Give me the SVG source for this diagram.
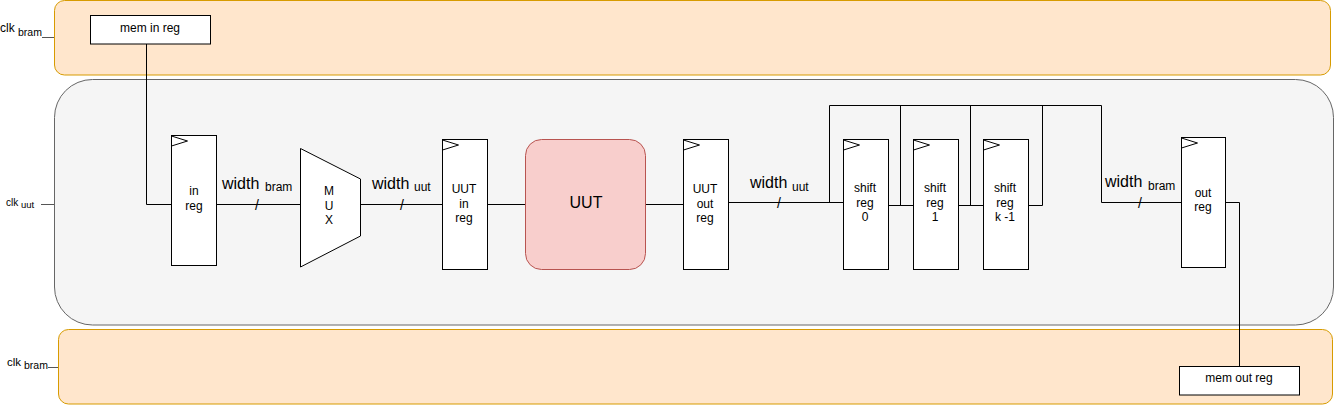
<svg xmlns="http://www.w3.org/2000/svg" width="1335" height="405" viewBox="0 0 1335 405">
<style>
text{font-family:"Liberation Sans",Arial,sans-serif;fill:#000;}
.reg{fill:#fff;stroke:#000;stroke-width:1;}
.clk{fill:none;stroke:#000;stroke-width:1;}
.t12{font-size:12px;text-anchor:middle;}
.w{font-size:16px;}
.s{font-size:12px;}
.sl{font-size:14px;text-anchor:middle;}
.wire{fill:none;stroke:#000;stroke-width:1;}
.stub{fill:none;stroke:#555;stroke-width:1;}
</style>
<defs>
<path id="ck" class="clk" d="M0,0 L16,5 L0,10"/>
</defs>
<g id="bram-top">
<rect x="54.5" y="0.5" width="1276" height="74.5" rx="10" fill="#ffe6cc" stroke="#d79b00"/>
</g>
<g id="uut-domain">
<rect x="54.5" y="79.5" width="1279" height="245.5" rx="38" fill="#f5f5f5" stroke="#666"/>
</g>
<g id="bram-bottom">
<rect x="58.5" y="329.5" width="1274" height="74.5" rx="10" fill="#ffe6cc" stroke="#d79b00"/>
</g>
<g id="clk-labels">
<text x="0" y="32" font-size="12">clk</text><text x="18" y="36" font-size="10.5">bram</text>
<path class="stub" d="M42,37.5 H54"/>
<text x="6" y="206" font-size="10">clk</text><text x="21" y="208" font-size="9.5">uut</text>
<path class="stub" d="M41,204.5 H54"/>
<text x="7" y="366" font-size="11.5">clk</text><text x="24" y="369" font-size="10.5">bram</text>
<path class="stub" d="M48,367.5 H58"/>
</g>
<g id="connectors">
<path class="wire" d="M146.5,44 V204.5 H171"/>
<path class="wire" d="M217,204.5 H300"/>
<path class="wire" d="M360,204.5 H443"/>
<path class="wire" d="M488,204.5 H526"/>
<path class="wire" d="M646,204.5 H683"/>
<path class="wire" d="M728,202.5 H843"/>
<path class="wire" d="M829.5,202.5 V105.5 H1101.5 V202.5 H1181"/>
<path class="wire" d="M888,205.5 H913"/>
<path class="wire" d="M900.5,105.5 V205.5"/>
<path class="wire" d="M958,205.5 H983"/>
<path class="wire" d="M970.5,105.5 V205.5"/>
<path class="wire" d="M1028,205.5 H1042.5 V105.5"/>
<path class="wire" d="M1226,202.5 H1239.5 V366"/>
<text class="w" x="222" y="189">width</text><text class="s" x="265" y="191">bram</text>
<text class="sl" x="257" y="210">/</text>
<text class="w" x="372" y="189">width</text><text class="s" x="414" y="191">uut</text>
<text class="sl" x="402" y="210">/</text>
<text class="w" x="750" y="188">width</text><text class="s" x="792" y="191">uut</text>
<text class="sl" x="779" y="208">/</text>
<text class="w" x="1105" y="187">width</text><text class="s" x="1148" y="190">bram</text>
<text class="sl" x="1140" y="208">/</text>
</g>
<g id="mem-in-reg">
<rect class="reg" x="90.5" y="15.5" width="120" height="28.5"/>
<text class="t12" x="150" y="32">mem in reg</text>
</g>
<g id="in-reg">
<rect class="reg" x="171.5" y="135.5" width="45" height="130"/>
<use href="#ck" x="171.5" y="136"/>
<text class="t12" x="194" y="195">in</text><text class="t12" x="194" y="210">reg</text>
</g>
<g id="mux">
<polygon points="300.5,148.5 360.5,179 360.5,236 300.5,267" fill="#fff" stroke="#000"/>
<text class="t12" x="329" y="195">M</text><text class="t12" x="329" y="210">U</text><text class="t12" x="329" y="224">X</text>
</g>
<g id="uut-in-reg">
<rect class="reg" x="442.5" y="139.5" width="45" height="130"/>
<use href="#ck" x="442.5" y="140"/>
<text class="t12" x="464" y="193">UUT</text><text class="t12" x="464" y="207.5">in</text><text class="t12" x="464" y="222">reg</text>
</g>
<g id="uut">
<rect x="525.5" y="139.5" width="120" height="130" rx="16" fill="#f8cecc" stroke="#b85450"/>
<text x="586" y="208" font-size="16" text-anchor="middle">UUT</text>
</g>
<g id="uut-out-reg">
<rect class="reg" x="683.5" y="139.5" width="45" height="130"/>
<use href="#ck" x="683.5" y="140"/>
<text class="t12" x="705" y="193">UUT</text><text class="t12" x="705" y="207.5">out</text><text class="t12" x="705" y="222">reg</text>
</g>
<g id="shift-reg-0">
<rect class="reg" x="843.5" y="139.5" width="45" height="130"/>
<use href="#ck" x="843.5" y="140"/>
<text class="t12" x="865" y="192">shift</text><text class="t12" x="865" y="207">reg</text><text class="t12" x="865" y="221">0</text>
</g>
<g id="shift-reg-1">
<rect class="reg" x="913.5" y="139.5" width="45" height="130"/>
<use href="#ck" x="913.5" y="140"/>
<text class="t12" x="935" y="192">shift</text><text class="t12" x="935" y="207">reg</text><text class="t12" x="935" y="221">1</text>
</g>
<g id="shift-reg-k-1">
<rect class="reg" x="983.5" y="139.5" width="45" height="130"/>
<use href="#ck" x="983.5" y="140"/>
<text class="t12" x="1005" y="192">shift</text><text class="t12" x="1005" y="207">reg</text><text class="t12" x="1005" y="221">k -1</text>
</g>
<g id="out-reg">
<rect class="reg" x="1181.5" y="137.5" width="44" height="130"/>
<use href="#ck" x="1181.5" y="138"/>
<text class="t12" x="1203" y="197">out</text><text class="t12" x="1203" y="211">reg</text>
</g>
<g id="mem-out-reg">
<rect class="reg" x="1179.5" y="366.5" width="120" height="28.5"/>
<text class="t12" x="1239" y="382">mem out reg</text>
</g>
</svg>
